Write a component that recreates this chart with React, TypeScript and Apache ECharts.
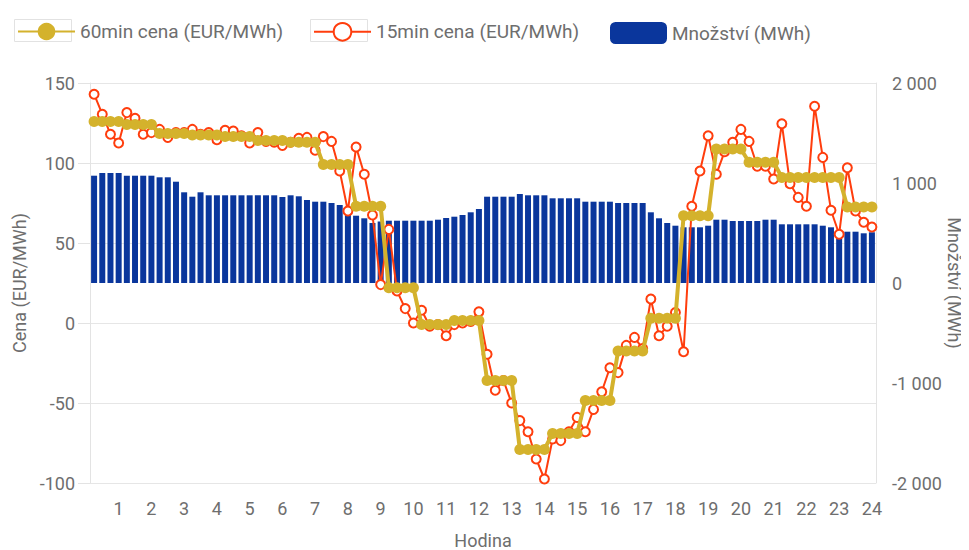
import React, { useEffect, useRef } from 'react';
import * as echarts from 'echarts';

const hourLabels = ['1','2','3','4','5','6','7','8','9','10','11','12','13','14','15','16','17','18','19','20','21','22','23','24'];

const price60 = [126, 124, 118.5, 117.5, 116.5, 114, 113, 99, 73, 22, -1, 1.5, -36, -79, -69, -48.5, -17.5, 3, 67, 108.75, 100.5, 91, 91, 72.5];

const price15 = [
  143, 130.5, 118, 112.5,
  131.5, 128, 118, 119,
  121, 116, 119, 119,
  121, 118, 119, 114.5,
  120.5, 120, 117, 112.5,
  119, 113.5, 113, 111,
  113, 115.5, 116, 108,
  116.5, 113.5, 95, 70,
  110, 93, 67.5, 24,
  58.5, 20, 9, 0,
  8, -2, -1, -8,
  -1, 0, 1, 7,
  -19.5, -42, -36, -50,
  -61, -68, -85, -97.5,
  -72.5, -73.5, -68, -59,
  -68, -54, -43, -28,
  -31, -14, -9, -16,
  15, -8, -2, 6.5,
  -18, 73, 95, 117,
  93, 107, 113, 121,
  113.5, 98, 98, 90,
  124.5, 87, 78.5, 73,
  135.5, 103.5, 70.5, 55.5,
  97, 70, 63, 60,
];

const quantity = [
  1073, 1100, 1100, 1100, 1073, 1073, 1073, 1073, 1057, 1057, 1013, 907,
  863, 907, 877, 877, 877, 877, 877, 877, 877, 877, 877, 860,
  877, 867, 830, 813, 813, 800, 780, 745, 673, 647, 600, 615,
  623, 623, 623, 623, 623, 623, 633, 650, 663, 680, 707, 740,
  863, 863, 863, 863, 890, 877, 877, 877, 847, 847, 847, 847,
  813, 813, 813, 813, 800, 800, 800, 800, 707, 647, 600, 573,
  557, 557, 557, 573, 633, 633, 620, 620, 620, 620, 633, 633,
  587, 587, 587, 587, 587, 573, 557, 513, 513, 513, 497, 507,
];

const quarters = quantity.map((_, i) => `${Math.floor(i / 4) + 1}.${(i % 4) + 1}`);
const price60Quarter = quarters.map((_, i) => price60[Math.floor(i / 4)]);

const YELLOW = '#d4b22c';
const RED = '#ff3d0d';
const BLUE = '#0a369c';
const TEXT = '#6e6e6e';
const FONT = 'Roboto, sans-serif';
const FS = 18;

function fmtThousands(v: number): string {
  const s = Math.abs(v).toString().replace(/\B(?=(\d{3})+(?!\d))/g, ' ');
  return (v < 0 ? '-' : '') + s;
}

export default function App() {
  const ref = useRef<HTMLDivElement>(null);
  useEffect(() => {
    if (!ref.current) return;
    const chart = echarts.init(ref.current, null, { renderer: 'svg' });
    const legendBase = {
      top: 17,
      itemWidth: 57,
      itemHeight: 22,
      itemGap: 20,
      textStyle: { fontFamily: FONT, fontSize: 19, color: TEXT },
    };
    const boxStyle = { fill: 'none', stroke: '#e2e2e2', lineWidth: 1 };
    chart.setOption({
      animation: false,
      textStyle: { fontFamily: FONT },
      legend: [
        { ...legendBase, left: 12, data: ['60min cena (EUR/MWh)'] },
        { ...legendBase, left: 308, data: ['15min cena (EUR/MWh)'] },
        { ...legendBase, left: 605, data: ['Množství (MWh)'] },
      ],
      graphic: [
        { type: 'rect', left: 12, top: 17, z: -1, shape: { width: 57, height: 22 }, style: boxStyle },
        { type: 'rect', left: 308, top: 17, z: -1, shape: { width: 57, height: 22 }, style: boxStyle },
      ],
      grid: { left: 90, right: 93, top: 83, bottom: 67, containLabel: false, outerBoundsMode: 'none' },
      xAxis: {
        type: 'category',
        data: quarters,
        boundaryGap: true,
        name: 'Hodina',
        nameLocation: 'middle',
        nameGap: 48,
        nameMoveOverlap: false,
        nameTextStyle: { fontFamily: FONT, fontSize: FS, color: TEXT },
        axisLine: { show: false, onZero: false },
        axisTick: { show: false },
        splitLine: { show: false },
        axisLabel: {
          interval: (index: number) => index % 4 === 3,
          formatter: (_v: string, index: number) => hourLabels[Math.floor(index / 4)],
          fontFamily: FONT,
          fontSize: FS,
          color: TEXT,
          margin: 16,
        },
      },
      yAxis: [
        {
          type: 'value',
          min: -100,
          max: 150,
          interval: 50,
          name: 'Cena (EUR/MWh)',
          nameLocation: 'middle',
          nameGap: 62,
          nameMoveOverlap: false,
          nameTextStyle: { fontFamily: FONT, fontSize: FS, color: TEXT },
          axisLine: { show: true, lineStyle: { color: '#e3e3e3' } },
          axisTick: { show: true, length: 12, lineStyle: { color: '#e3e3e3' } },
          splitLine: { show: true, lineStyle: { color: '#e6e6e6', width: 1 } },
          axisLabel: { fontFamily: FONT, fontSize: FS, color: TEXT, margin: 15 },
        },
        {
          type: 'value',
          min: -2000,
          max: 2000,
          interval: 1000,
          position: 'right',
          name: 'Množství (MWh)',
          nameLocation: 'middle',
          nameRotate: -90,
          nameGap: 69,
          nameMoveOverlap: false,
          nameTextStyle: { fontFamily: FONT, fontSize: FS, color: TEXT },
          axisLine: { show: true, lineStyle: { color: '#e3e3e3' } },
          axisTick: { show: false },
          splitLine: { show: false },
          axisLabel: { fontFamily: FONT, fontSize: FS, color: TEXT, margin: 16, formatter: (v: number) => fmtThousands(v) },
        },
      ],
      series: [
        {
          name: '60min cena (EUR/MWh)',
          type: 'line',
          data: price60Quarter,
          yAxisIndex: 0,
          z: 4,
          symbol: 'circle',
          symbolSize: 11,
          showAllSymbol: true,
          lineStyle: { color: YELLOW, width: 4 },
          itemStyle: { color: YELLOW },
        },
        {
          name: '15min cena (EUR/MWh)',
          type: 'line',
          data: price15,
          yAxisIndex: 0,
          z: 3,
          symbol: 'emptyCircle',
          symbolSize: 9,
          showAllSymbol: true,
          lineStyle: { color: RED, width: 2 },
          itemStyle: { color: RED, borderColor: RED, borderWidth: 2 },
        },
        {
          name: 'Množství (MWh)',
          type: 'bar',
          data: quantity,
          yAxisIndex: 1,
          z: 2,
          barWidth: 6,
          itemStyle: { color: BLUE },
        },
      ],
    });
    return () => chart.dispose();
  }, []);
  return <div ref={ref} style={{ width: 969, height: 550, marginLeft: -8, marginTop: -8 }} />;
}
